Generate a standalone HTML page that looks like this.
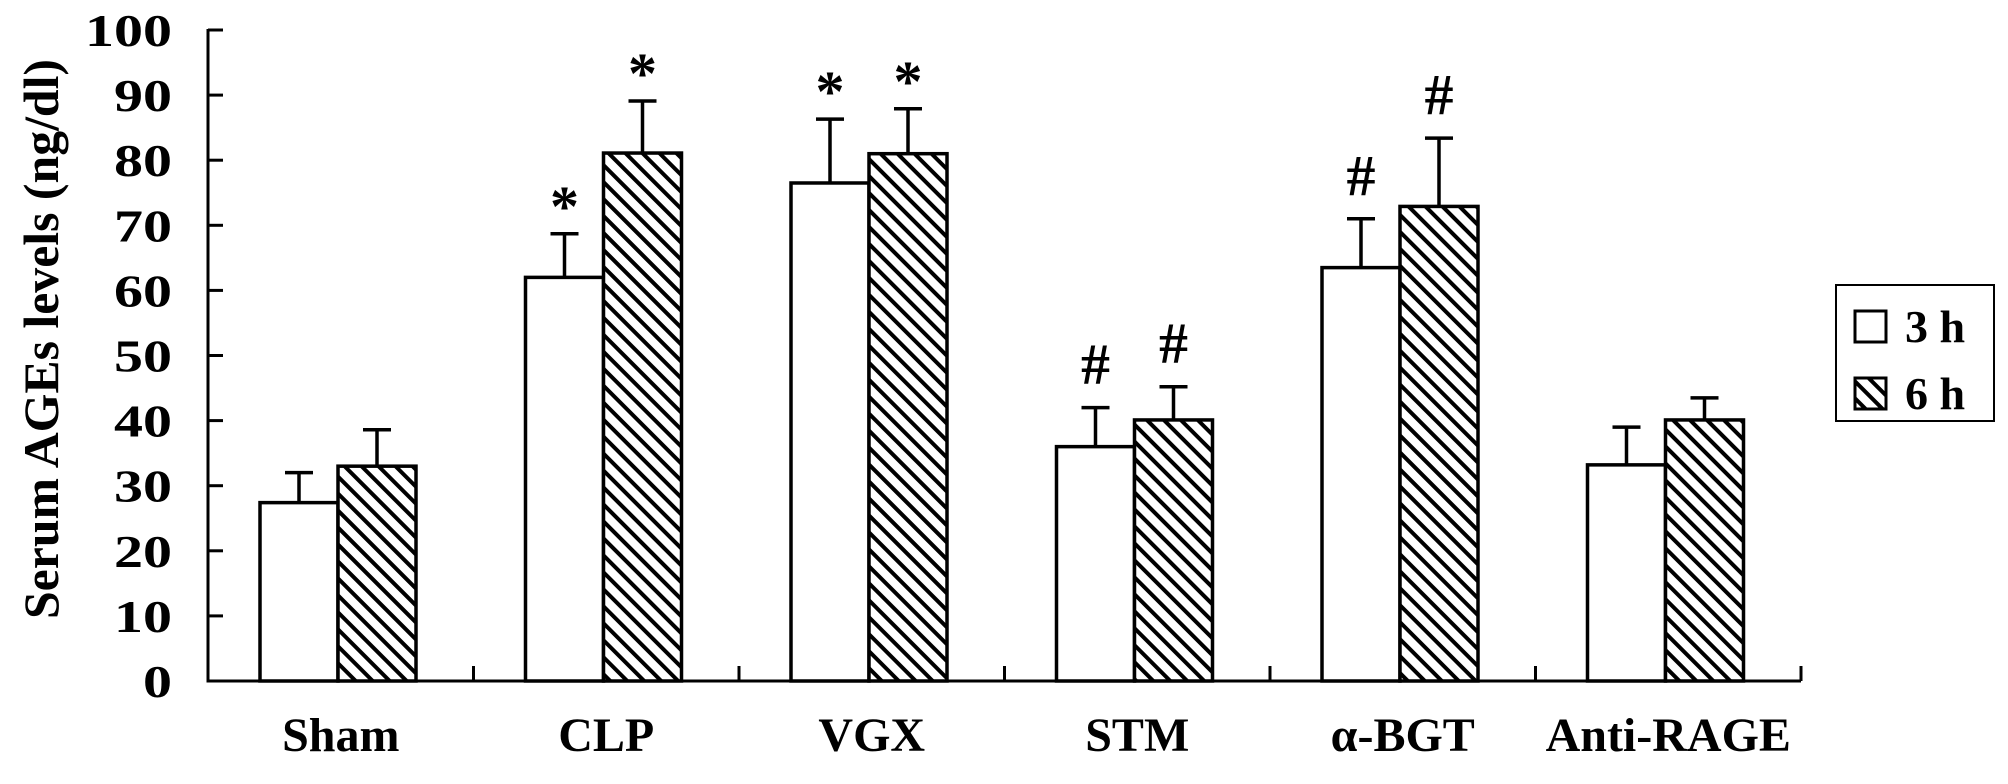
<!DOCTYPE html>
<html><head><meta charset="utf-8"><style>
html,body{margin:0;padding:0;background:#fff;}
svg{display:block;font-family:"Liberation Serif",serif;font-weight:bold;}
</style></head><body>
<svg id="chart" width="2008" height="784" viewBox="0 0 2008 784" xmlns="http://www.w3.org/2000/svg">
<defs>
<pattern id="hatch" patternUnits="userSpaceOnUse" width="12" height="12" patternTransform="rotate(45)">
<rect width="12" height="12" fill="#fff"/>
<rect x="0" y="0" width="12" height="4" fill="#000"/>
</pattern>
</defs>
<g id="plot"></g>
<text transform="translate(58,339) rotate(-90)" text-anchor="middle" font-size="50" textLength="560" lengthAdjust="spacingAndGlyphs">Serum AGEs levels (ng/dl)</text>
<g>
<rect x="1836" y="285" width="158" height="136" fill="#fff" stroke="#000" stroke-width="2"/>
<rect x="1855" y="311" width="31" height="31" fill="#fff" stroke="#000" stroke-width="3"/>
<text x="1905" y="342" font-size="46">3 h</text>
<rect x="1855" y="378" width="31" height="31" fill="url(#hatch)" stroke="#000" stroke-width="3"/>
<text x="1905" y="409" font-size="46">6 h</text>
</g>
</svg>
<script>
const categories = ["Sham","CLP","VGX","STM","\u03b1-BGT","Anti-RAGE"];
const values3h = [27.4, 62, 76.5, 36, 63.5, 33.2];
const err3h = [32, 68.7, 86.3, 42, 71, 39];
const values6h = [33, 81.1, 81, 40.1, 72.9, 40.1];
const err6h = [38.6, 89.1, 87.9, 45.2, 83.4, 43.5];
const marks3h = ["", "*", "*", "#", "#", ""];
const marks6h = ["", "*", "*", "#", "#", ""];
const yTicks = [0,10,20,30,40,50,60,70,80,90,100];

const NS = "http://www.w3.org/2000/svg";
const g = document.getElementById('plot');
const X0 = 208, X1 = 1801, Y0 = 681, Y100 = 30;
const groupW = (X1 - X0) / categories.length;
const barW = 78, offset = 52;
function y(v){ return Y0 - (v/100)*(Y0-Y100); }
function gx(i){ return X0 + i*groupW; }
function mk(tag, attrs){ const e = document.createElementNS(NS, tag); for (const k in attrs) e.setAttribute(k, attrs[k]); g.appendChild(e); return e; }

yTicks.forEach(t=>{
  const l = mk('line',{x1:X0,x2:X0+15,y1:y(t),y2:y(t),stroke:'#000','stroke-width':3});
  
  
  const s = String(t);
  const tx = mk('text',{x:172,y:y(t)+16,'text-anchor':'end','font-size':46,textLength:29*s.length,lengthAdjust:'spacingAndGlyphs'});
  
  
  tx.textContent = s;
});
for (let i=1;i<=categories.length;i++){
  const l = mk('line',{x1:gx(i),x2:gx(i),y1:Y0,y2:Y0-15,stroke:'#000','stroke-width':3});
  
  
}
function bar(i, v, e, mark, fill, left, name){
  const bx = gx(i) + offset + (left?0:barW);
  const cx = bx + barW/2;
  const el = mk('line',{x1:cx,x2:cx,y1:y(v),y2:y(e),stroke:'#000','stroke-width':3.5});
  
  
  const cap = mk('line',{x1:cx-14,x2:cx+14,y1:y(e),y2:y(e),stroke:'#000','stroke-width':3.5});
  
  
  const r = mk('rect',{x:bx,y:y(v),width:barW,height:Y0-y(v),fill:fill,stroke:'#000','stroke-width':3.5});
  
  
  if (mark){
    const t = mk('text',{x:cx,y: mark==='*' ? y(e)-8 : y(e)-24,'text-anchor':'middle','font-size':58});
    
    
    t.textContent = mark;
  }
}
categories.forEach((c,i)=>{
  bar(i, values3h[i], err3h[i], marks3h[i], '#fff', true, 'bar-3h');
  bar(i, values6h[i], err6h[i], marks6h[i], 'url(#hatch)', false, 'bar-6h');
  const t = mk('text',{x:gx(i)+groupW/2,y:751,'text-anchor':'middle','font-size':48});
  
  
  t.textContent = c;
});
const ya = mk('line',{x1:X0,x2:X0,y1:Y100-1,y2:Y0+1.5,stroke:'#000','stroke-width':3});


const xa = mk('line',{x1:X0-1.5,x2:X1,y1:Y0,y2:Y0,stroke:'#000','stroke-width':3});


</script>
</body></html>
